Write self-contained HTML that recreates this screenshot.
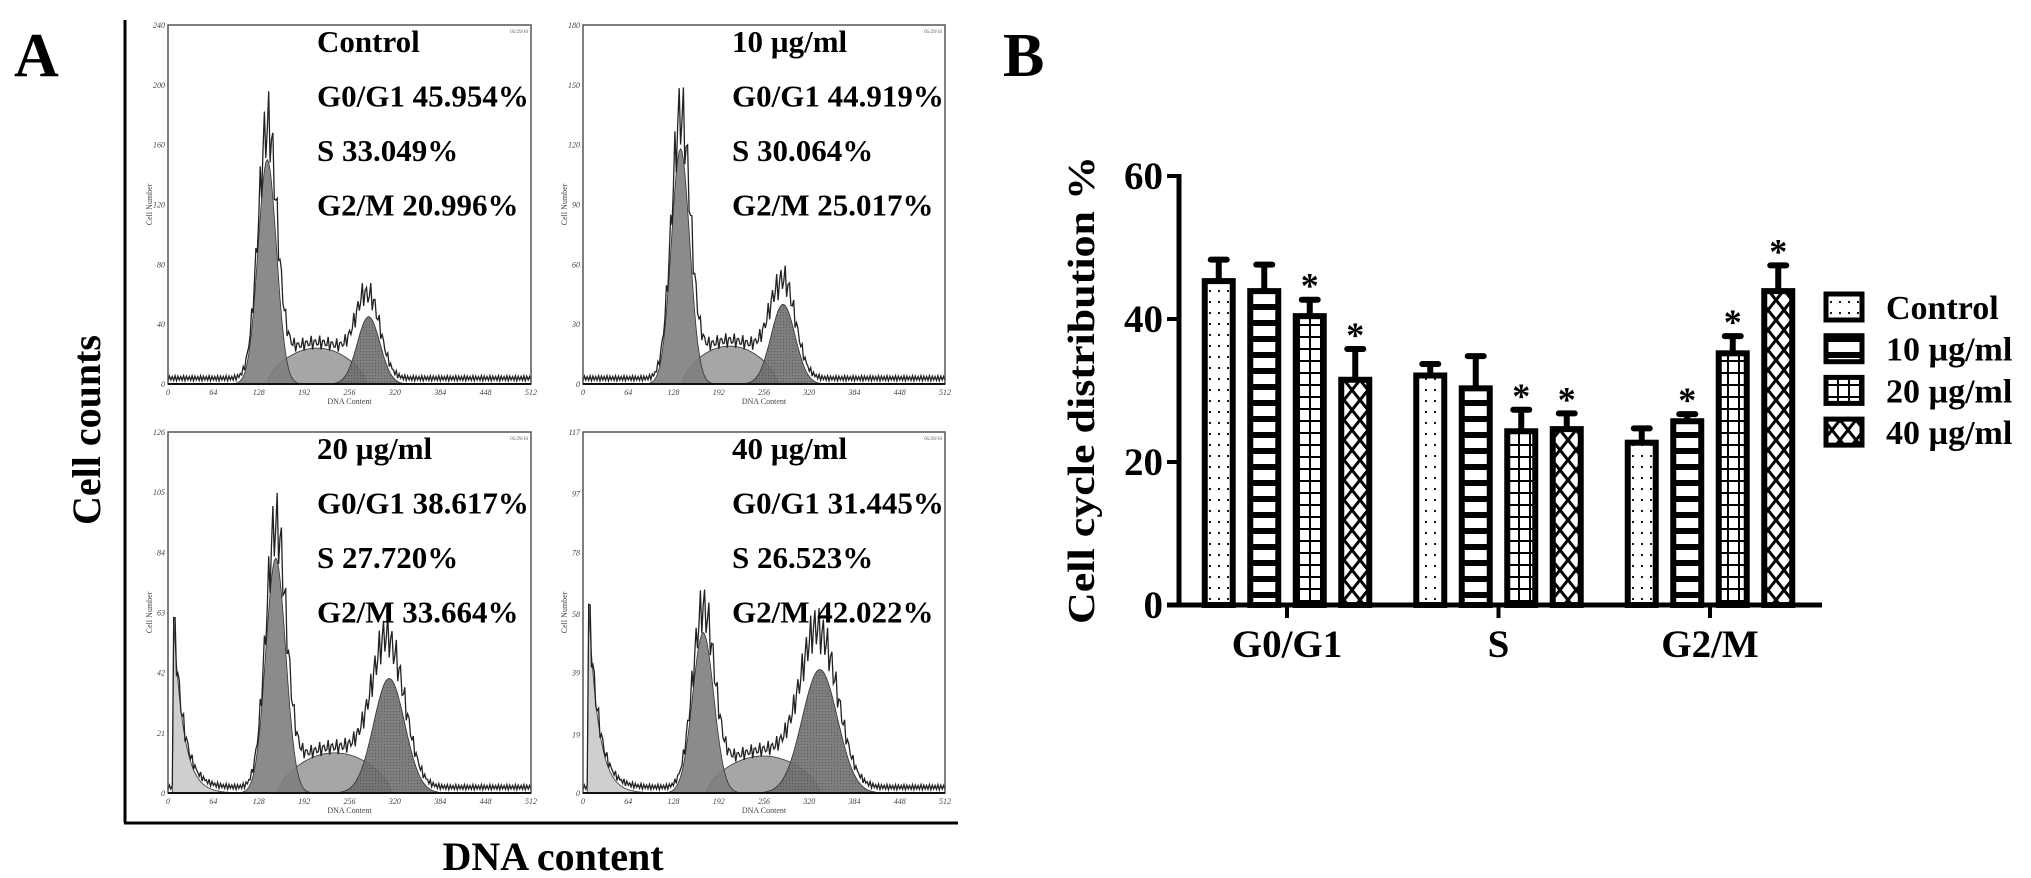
<!DOCTYPE html>
<html><head><meta charset="utf-8"><style>
html,body{margin:0;padding:0;background:#fff;}
svg{display:block;}
text{font-family:"Liberation Serif",serif;}
</style></head><body>
<svg id="fig" width="2031" height="878" viewBox="0 0 2031 878" xmlns="http://www.w3.org/2000/svg">
<defs>
 <pattern id="pDots" width="9" height="11" patternUnits="userSpaceOnUse"><rect width="9" height="11" fill="#fff"/><circle cx="4" cy="5" r="1.1" fill="#000"/></pattern>
 <pattern id="pStripes" width="10" height="16" patternUnits="userSpaceOnUse"><rect width="10" height="16" fill="#fff"/><rect y="0" width="10" height="6" fill="#000"/></pattern>
 <pattern id="pGrid" width="11" height="12" patternUnits="userSpaceOnUse"><rect width="11" height="12" fill="#fff"/><rect y="0" width="11" height="2" fill="#000"/><rect x="0" width="2" height="12" fill="#000"/></pattern>
 <pattern id="pCross" width="16" height="20" patternUnits="userSpaceOnUse"><rect width="16" height="20" fill="#fff"/><path d="M0,0 L16,20 M16,0 L0,20" stroke="#000" stroke-width="3"/></pattern>
 <pattern id="pHatch" width="3" height="3" patternUnits="userSpaceOnUse"><rect width="3" height="3" fill="#707070"/><rect width="1" height="1" fill="#4a4a4a"/></pattern>
</defs>
<text x="14" y="76" font-size="62" font-weight="bold">A</text>
<text x="1003" y="76" font-size="62" font-weight="bold">B</text>
<line x1="125" y1="20" x2="125" y2="823" stroke="#000" stroke-width="3"/>
<line x1="124" y1="823" x2="958" y2="823" stroke="#000" stroke-width="3"/>
<text transform="translate(100,430) rotate(-90)" text-anchor="middle" font-size="40" font-weight="bold">Cell counts</text>
<text x="553" y="870" text-anchor="middle" font-size="40" font-weight="bold">DNA content</text>
<g id="hists"></g>
<g id="barchart"></g>
</svg>
<script>
// ---------- Panel A histogram data ----------
const histNames = ["Control", "10 µg/ml", "20 µg/ml", "40 µg/ml"];
const histG1 = ["G0/G1 45.954%", "G0/G1 44.919%", "G0/G1 38.617%", "G0/G1 31.445%"];
const histS = ["S 33.049%", "S 30.064%", "S 27.720%", "S 26.523%"];
const histG2 = ["G2/M 20.996%", "G2/M 25.017%", "G2/M 33.664%", "G2/M 42.022%"];
const histYMax = [240, 180, 126, 117];
const histYTicks = [[0,40,80,120,160,200,240],[0,30,60,90,120,150,180],[0,21,42,63,84,105,126],[0,19,39,58,78,97,117]];
const g1Center = [140, 138, 152, 170];
const g1Height = [150, 118, 82, 52];
const g1Sigma = [13, 13, 14, 15];
const sHeight = [24, 19, 14, 12];
const sStart = [140, 140, 155, 175];
const sEnd = [280, 275, 315, 335];
const g2Center = [283, 283, 312, 335];
const g2Height = [45, 40, 40, 40];
const g2Sigma = [16, 17, 22, 25];
const debrisHeight = [0, 0, 60, 60];
const xTicks = [0,64,128,192,256,320,384,448,512];

const panels = [{x:168,y:25,w:363,h:359},{x:583,y:25,w:362,h:359},{x:168,y:432,w:363,h:361},{x:583,y:432,w:362,h:361}];
const NS = "http://www.w3.org/2000/svg";
const hg = document.getElementById('hists');
function mk(tag, attrs, parent){const e=document.createElementNS(NS,tag);for(const k in attrs)e.setAttribute(k,attrs[k]);parent.appendChild(e);return e;}

function gauss(c,m,s,h){return h*Math.exp(-0.5*((c-m)/s)**2);}
function sComp(i,c){if(c<=sStart[i]||c>=sEnd[i])return 0;const t=(c-sStart[i])/(sEnd[i]-sStart[i]);return sHeight[i]*Math.pow(Math.sin(Math.PI*t),0.6);}
function debris(i,c){if(!debrisHeight[i]||c<8)return 0;return debrisHeight[i]*Math.exp(-(c-8)/14);}

panels.forEach((p,i)=>{
  const g = mk('g',{},hg);
  
  
  const X=c=>p.x+c/512*p.w, Y=v=>p.y+p.h-v/histYMax[i]*p.h;
  function poly(fn,fill,name,op){
    let d='M'+X(0)+','+Y(0);
    for(let c=0;c<=512;c+=2)d+=' L'+X(c).toFixed(1)+','+Y(fn(c)).toFixed(1);
    d+=' L'+X(512)+','+Y(0)+'Z';
    const e=mk('path',{d:d,fill:fill,'fill-opacity':op,stroke:'#333','stroke-width':0.8},g);
    
    
  }
  poly(c=>debris(i,c),'#cfcfcf','debris-fill',1);
  poly(c=>sComp(i,c),'#9c9c9c','s-phase-fill',0.9);
  poly(c=>gauss(c,g1Center[i],g1Sigma[i],g1Height[i]),'#7e7e7e','g1-fill',0.9);
  poly(c=>gauss(c,g2Center[i],g2Sigma[i],g2Height[i]),'url(#pHatch)','g2-fill',0.9);
  let d='';
  for(let c=0,k=0;c<=512;c+=2,k++){
    const base=debris(i,c)+sComp(i,c)+gauss(c,g1Center[i],g1Sigma[i],g1Height[i])*1.12+gauss(c,g2Center[i],g2Sigma[i],g2Height[i])*1.25+histYMax[i]*0.01;
    const v=Math.min(histYMax[i]*0.98, base*(1+((k%3)-1)*0.12)+((k%2)?histYMax[i]*0.012:0));
    d+=(c?' L':'M')+X(c).toFixed(1)+','+Y(v).toFixed(1);
  }
  const tr=mk('path',{d:d,fill:'none',stroke:'#222','stroke-width':1.3},g);
  
  
  const fr=mk('rect',{x:p.x,y:p.y,width:p.w,height:p.h,fill:'none',stroke:'#555','stroke-width':1.5},g);
  
  
  mk('line',{x1:p.x,y1:p.y+p.h,x2:p.x+p.w,y2:p.y+p.h,stroke:'#111','stroke-width':2},g);
  histYTicks[i].forEach(t=>{
    const tl=mk('text',{x:p.x-3,y:Y(t)+3,'text-anchor':'end','font-size':8,'font-style':'italic',fill:'#444','font-family':'Liberation Sans, sans-serif'},g);
    tl.textContent=t;
    
    
  });
  xTicks.forEach(t=>{
    const tl=mk('text',{x:X(t),y:p.y+p.h+11,'text-anchor':'middle','font-size':8,'font-style':'italic',fill:'#444','font-family':'Liberation Sans, sans-serif'},g);
    tl.textContent=t;
    
    
  });
  const xl=mk('text',{x:p.x+p.w/2,y:p.y+p.h+20,'text-anchor':'middle','font-size':8,fill:'#444','font-family':'Liberation Sans, sans-serif'},g);
  xl.textContent='DNA Content';
  
  
  const yl=mk('text',{transform:`translate(${p.x-16},${p.y+p.h/2}) rotate(-90)`,'text-anchor':'middle','font-size':8,fill:'#444','font-family':'Liberation Sans, sans-serif'},g);
  yl.textContent='Cell Number';
  
  
  const dt=mk('text',{x:p.x+p.w-3,y:p.y+8,'text-anchor':'end','font-size':5,fill:'#555','font-family':'Liberation Sans, sans-serif'},g);
  dt.textContent='05/29/16';
  
  
  const tx=p.x+149;
  [histNames[i],histG1[i],histS[i],histG2[i]].forEach((s,j)=>{
    const t=mk('text',{x:tx,y:p.y+27+j*54.5,'font-size':31,'font-weight':'bold'},g);
    t.textContent=s;
    
    
  });
});

// ---------- Panel B bar chart data ----------
const categories = ["G0/G1", "S", "G2/M"];
const seriesNames = ["Control", "10 µg/ml", "20 µg/ml", "40 µg/ml"];
const controlVals = [45.3, 32.1, 22.7];
const v10Vals = [43.9, 30.3, 25.7];
const v20Vals = [40.4, 24.3, 35.2];
const v40Vals = [31.5, 24.6, 43.9];
const controlErr = [3.0, 1.6, 2.0];
const v10Err = [3.7, 4.5, 1.0];
const v20Err = [2.3, 3.0, 2.4];
const v40Err = [4.3, 2.2, 3.6];
const sigControl = [false,false,false];
const sig10 = [false,false,true];
const sig20 = [true,true,true];
const sig40 = [true,true,true];
const yTicks = [0,20,40,60];

const series=[controlVals,v10Vals,v20Vals,v40Vals];
const errs=[controlErr,v10Err,v20Err,v40Err];
const sigs=[sigControl,sig10,sig20,sig40];
const fills=['url(#pDots)','url(#pStripes)','url(#pGrid)','url(#pCross)'];
const bc=document.getElementById('barchart');
const axX=1179, y0=605, pxPerUnit=143/20;
const yS=v=>y0-v*pxPerUnit;
const groupX=k=>1287+k*211.5;
const barW=28, pitch=45.5;

categories.forEach((cat,k)=>{
  series.forEach((vals,s)=>{
    const cx=groupX(k)+(s-1.5)*pitch;
    const top=yS(vals[k]), eTop=yS(vals[k]+errs[s][k]);
    const el=mk('line',{x1:cx,y1:top,x2:cx,y2:eTop,stroke:'#000','stroke-width':6},bc);
    
    
    const cap=mk('line',{x1:cx-8,y1:eTop,x2:cx+8,y2:eTop,stroke:'#000','stroke-width':6,'stroke-linecap':'round'},bc);
    
    
    const r=mk('rect',{x:cx-barW/2,y:top,width:barW,height:y0-top,fill:fills[s],stroke:'#000','stroke-width':6},bc);
    
    
    if(sigs[s][k]){
      const st=mk('text',{x:cx,y:eTop-2,'text-anchor':'middle','font-size':36,'font-weight':'bold'},bc);
      st.textContent='*';
      
      
    }
  });
  const tk=mk('line',{x1:groupX(k),y1:y0,x2:groupX(k),y2:y0+13,stroke:'#000','stroke-width':4},bc);
  
  
  const lb=mk('text',{x:groupX(k),y:657,'text-anchor':'middle','font-size':39,'font-weight':'bold'},bc);
  lb.textContent=cat;
  
  
});
const ya=mk('line',{x1:axX,y1:yS(60)-2,x2:axX,y2:y0+2,stroke:'#000','stroke-width':5},bc);


const xa=mk('line',{x1:axX-12,y1:y0,x2:1822,y2:y0,stroke:'#000','stroke-width':5},bc);


yTicks.forEach(t=>{
  const l=mk('line',{x1:axX-12,y1:yS(t),x2:axX,y2:yS(t),stroke:'#000','stroke-width':4},bc);
  
  
  const tl=mk('text',{x:axX-16,y:yS(t)+13,'text-anchor':'end','font-size':39,'font-weight':'bold'},bc);
  tl.textContent=t;
  
  
});
const yt=mk('text',{transform:'translate(1094,390) rotate(-90)','text-anchor':'middle','font-size':38,'font-weight':'bold',textLength:468,lengthAdjust:'spacingAndGlyphs'},bc);
yt.textContent='Cell cycle distribution %';


seriesNames.forEach((n,s)=>{
  const ly=307+s*41.7;
  const bx=mk('rect',{x:1826,y:ly-13,width:36,height:26,fill:fills[s],stroke:'#000','stroke-width':5},bc);
  
  
  const t=mk('text',{x:1886,y:ly+12,'font-size':34,'font-weight':'bold'},bc);
  t.textContent=n;
  
  
});
</script>
</body></html>
